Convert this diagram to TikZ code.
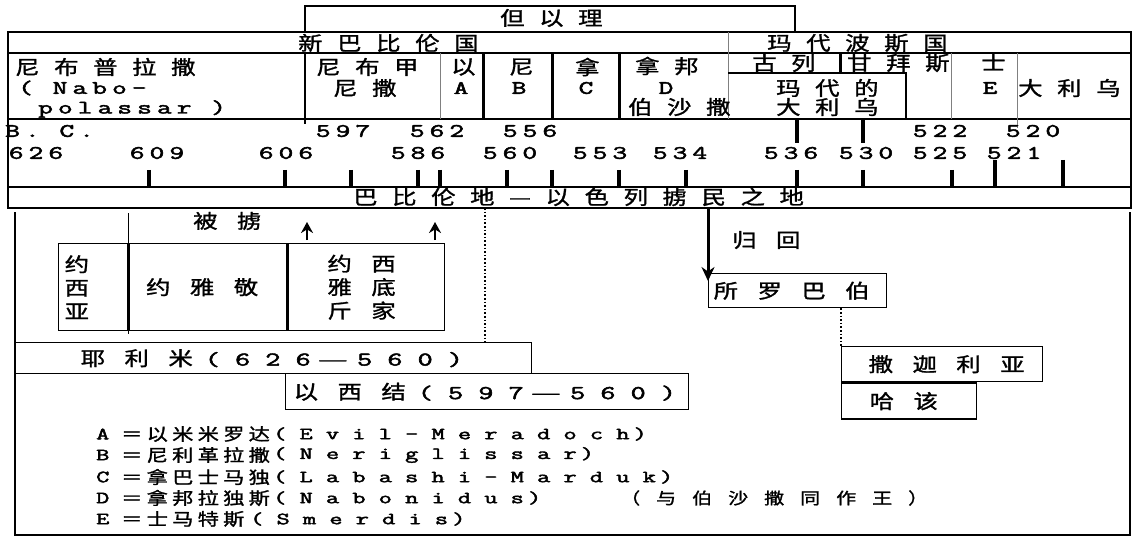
\documentclass[tikz,border=0pt]{standalone}
\usepackage{fontspec}
\usepackage{graphicx}
\usetikzlibrary{arrows.meta}
\newfontfamily\zhm{Noto Sans CJK SC}[FakeBold=1.3,LetterSpace=60]
\newfontfamily\zhw{Noto Sans CJK SC}[FakeBold=1.3,LetterSpace=80]
\newfontfamily\zhn{Noto Sans CJK SC}[FakeBold=1.3,LetterSpace=20]
\newfontfamily\zhc{Noto Sans CJK SC}[FakeBold=1.3]
\newfontfamily\lat{Latin Modern Mono}[FakeBold=2.2,LetterSpace=18]
\newfontfamily\latw{Latin Modern Mono}[FakeBold=2.2,LetterSpace=52]
\newcommand\sx[1]{\scalebox{1.5}[1]{#1}}
\newcommand\zx[1]{\scalebox{1.25}[1]{#1}}

\tikzset{
  hd/.style={inner sep=0pt, anchor=west, font=\fontsize{19.5}{23.5}\selectfont\zhm},
  wd/.style={inner sep=0pt, anchor=west, font=\fontsize{19.5}{23.5}\selectfont\zhw},
  num/.style={inner sep=0pt, font=\fontsize{19}{23}\selectfont\lat},
  leg/.style={inner sep=0pt, anchor=west, font=\fontsize{17}{22}\selectfont\zhn},
  rule/.style={line width=1.6pt},
  bar/.style={line width=3pt},
  faint/.style={line width=1pt, gray},
  tick/.style={line width=3.5pt},
  cell/.style={draw, line width=1.4pt, inner ysep=0pt, align=left, anchor=north west,
    font=\fontsize{19.5}{23.5}\selectfont\zhw},
  up/.style={line width=2.6pt, -{Stealth[length=11pt,width=12pt]}}
}

\begin{document}
\begin{tikzpicture}[x=1pt,y=-1pt]
    \useasboundingbox (0,0) rectangle (1134,540);

    \draw[line width=2.2pt] (305,32) |- (795,6) -- (795,32);
    \node[hd] (dnl) at (500,18) {\zx{但以理}};

    \draw[rule] (8,32) rectangle (1131,208);
    \draw[rule] (8,53) -- (1131,53) (8,119) -- (1131,119) (8,187) -- (1131,187);
    \draw[rule] (305,53) -- (305,124);
    \draw[faint] (440,53) -- (440,119) (728,32) -- (728,119) (951,53) -- (951,119) (1017,53) -- (1017,128);
    \draw[bar] (483,53) -- (483,119) (552,53) -- (552,119) (619,53) -- (619,119) (840,53) -- (840,73);
    \draw[line width=2.4pt] (728,73) -| (906,119);
    \draw[tick] (797,119) -- (797,143) (863,119) -- (863,143);
    \foreach \x in {149,285,351,418,440,507,552,619,686,797,863,952}
        \draw[tick] (\x,170) -- (\x,187);
    \foreach \x in {995,1063}
        \draw[tick] (\x,160) -- (\x,187);

    \node[hd] (xbbl) at (298,43) {\zx{新巴比伦国}};
    \node[hd] (mdbs) at (767,43) {\zx{玛代波斯国}};
    \node[hd] (nbpl) at (15,67) {\zx{尼布普拉撒}};
    \node[num,anchor=west] (nabo) at (18,88) {\sx{( Nabo-}};
    \node[num,anchor=west] (pola) at (38,109) {\sx{polassar )}};
    \node[hd] (nbj) at (316,67) {\zx{尼布甲}};
    \node[hd] (nbs) at (333,88) {\zx{尼撒}};
    \node[hd] (emm) at (451,67) {\zx{以}};
    \node[num] (ka) at (461,88) {\sx{A}};
    \node[hd] (nlg) at (509,67) {\zx{尼}};
    \node[num] (kb) at (519,88) {\sx{B}};
    \node[hd] (lbs) at (575,67) {\zx{拿}};
    \node[num] (kc) at (586,88) {\sx{C}};
    \node[hd] (nbd) at (635,66) {\zx{拿邦}};
    \node[num] (kd) at (666,88) {\sx{D}};
    \node[hd] (bss) at (628,107) {\zx{伯沙撒}};
    \node[hd] (gl) at (752,63) {\zx{古列}};
    \node[hd] (gbs) at (847,63) {\zx{甘拜斯}};
    \node[hd] (mdd) at (776,88) {\zx{玛代的}};
    \node[hd] (dlw) at (776,107) {\zx{大利乌}};
    \node[hd] (smd) at (981,62) {\zx{士}};
    \node[num] (ke) at (990,88) {\sx{E}};
    \node[hd] (dlw2) at (1018,88) {\zx{大利乌}};

    \node[num,anchor=west] (bc) at (5,131) {\sx{B. C.}};
    \foreach \x/\yr in {343/597,437/562,530/556,940/522,1033/520}
        \node[num] (u\yr) at (\x,131) {\sx{\yr}};
    \foreach \x/\yr in {36/626,157/609,286/606,418/586,510/560,600/553,680/534,791/536,866/530,940/525,1014/521}
        \node[num] (v\yr) at (\x,153) {\sx{\yr}};
    \node[hd] (bbl) at (353,197) {\zx{巴比伦地—以色列掳民之地}};

    \draw[line width=1.6pt] (15,212) |- (1130,535) -- (1130,212);

    \node[wd] (bl) at (193,221) {\zx{被掳}};
    \node[cell, text width=57pt, inner xsep=6pt, minimum height=87pt] (yxy) at (58,243) {\zx{约}\\\zx{西}\\\zx{亚}};
    \node[cell, text width=124pt, inner xsep=17pt, minimum height=87pt] (yyj) at (yxy.north east) {\zx{约雅敬}};
    \node[cell, text width=78pt, inner xsep=39pt, minimum height=87pt] (yxyd) at (yyj.north east) {\zx{约西}\\\zx{雅底}\\\zx{斤家}};
    \draw[rule] ([yshift=30pt]yyj.north west) -- ([yshift=-3pt]yyj.south west);
    \coordinate (p1) at (307,240);
    \coordinate (p2) at (435,240);
    \draw[up] (p1) -- ++(0,-18);
    \draw[up] (p2) -- ++(0,-18);

    \node[cell, text width=386pt, inner xsep=65pt, minimum height=31pt] (ylm) at (15,342)
        {\zx{耶利米}\hspace{12pt}{\latw\sx{(626}}\hspace{8pt}{\fontsize{17}{20}\selectfont\zhc ——}\hspace{10pt}{\latw\sx{560)}}};
    \node[cell, text width=387pt, inner xsep=8pt, minimum height=36pt] (yxj) at (285,373)
        {\zx{以西结}\hspace{12pt}{\latw\sx{(597}}\hspace{8pt}{\fontsize{17}{20}\selectfont\zhc ——}\hspace{10pt}{\latw\sx{560)}}};
    \coordinate (d1) at (485,208);
    \draw[dotted, line width=1.6pt] (d1) -- (d1 |- ylm.north);

    \node[cell, text width=168pt, inner xsep=5pt, minimum height=34pt] (slbb) at (708,273) {\zx{所罗巴伯}};
    \node[cell, text width=147pt, inner xsep=27pt, minimum height=35pt] (sjly) at (841,346) {\zx{撒迦利亚}};
    \node[cell, text width=79pt, inner xsep=28pt, minimum height=36pt] (hg) at (sjly.south west) {\zx{哈该}};
    \coordinate (g0) at (708,208);
    \draw[line width=3pt, -{Stealth[length=14pt,width=13pt]}] (g0) -- ([yshift=-8pt]slbb.north west);
    \node[wd] (gh) at (732,240) {\zx{归回}};
    \draw[dotted, line width=1.6pt] (slbb.south -| sjly.north west) -- (sjly.north west);

    \foreach \k/\zh/\en/\ex/\yy in {A/以米米罗达/Evil-Meradoch/273/434, B/尼利革拉撒/Neriglissar/273/455,
            C/拿巴士马独/Labashi-Marduk/273/477, D/拿邦拉独斯/Nabonidus/273/498, E/士马特斯/Smerdis/250/519} {
        \node[leg] (k\k) at (96,\yy) {{\latw\sx{\k}}};
        \node[leg] (z\k) at (121,\yy) {\zx{＝\zh}};
        \node[leg] (e\k) at (\ex,\yy) {{\latw\sx{(\en\,)}}};
    }
    \node[leg, font=\fontsize{16}{22}\selectfont\zhw] (ldn) at (620,498) {\zx{（与伯沙撒同作王）}};
\end{tikzpicture}
\end{document}
